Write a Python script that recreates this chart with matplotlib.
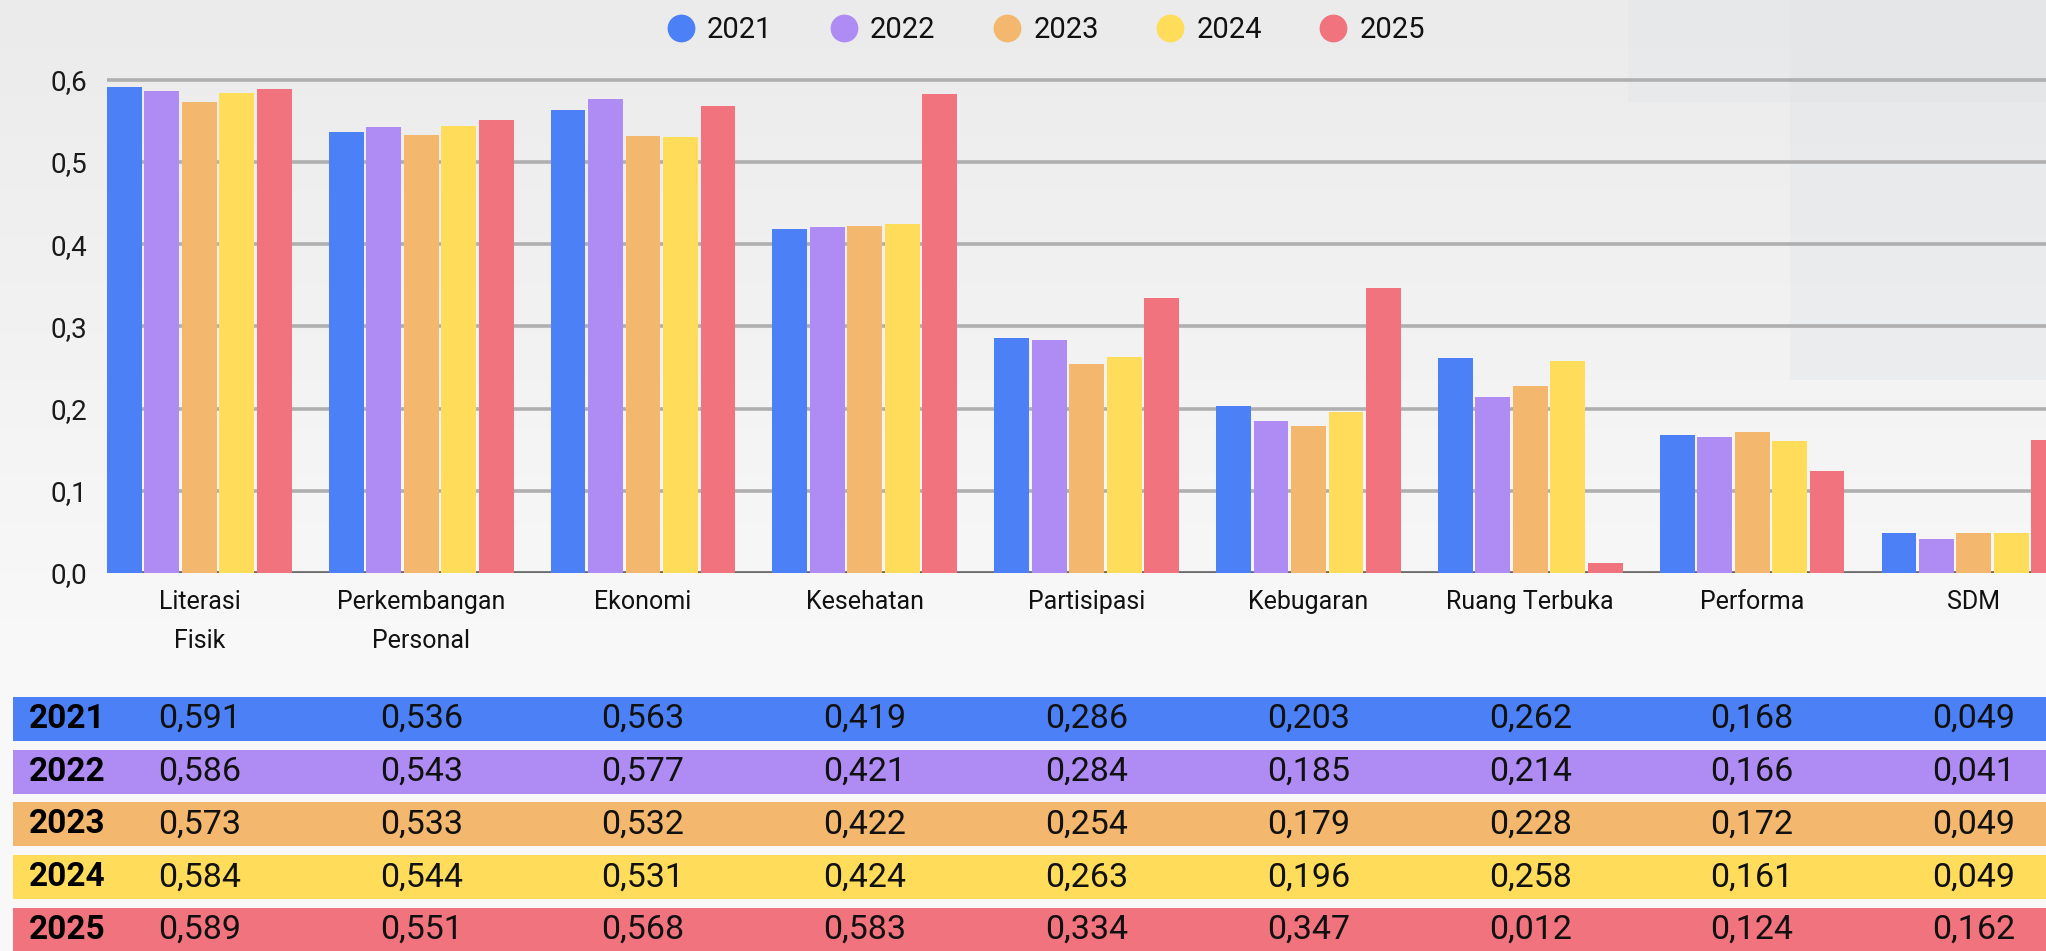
import numpy as np
import matplotlib
matplotlib.use("Agg")
import matplotlib.pyplot as plt
from matplotlib.patches import Rectangle
from matplotlib.lines import Line2D
import matplotlib.transforms as mtransforms

plt.rcParams['font.family'] = ['Roboto', 'DejaVu Sans']

# ---------------- data ----------------
categories = ["Literasi\nFisik", "Perkembangan\nPersonal", "Ekonomi", "Kesehatan",
              "Partisipasi", "Kebugaran", "Ruang Terbuka", "Performa", "SDM"]
years = ["2021", "2022", "2023", "2024", "2025"]
v2021 = [0.591, 0.536, 0.563, 0.419, 0.286, 0.203, 0.262, 0.168, 0.049]
v2022 = [0.586, 0.543, 0.577, 0.421, 0.284, 0.185, 0.214, 0.166, 0.041]
v2023 = [0.573, 0.533, 0.532, 0.422, 0.254, 0.179, 0.228, 0.172, 0.049]
v2024 = [0.584, 0.544, 0.531, 0.424, 0.263, 0.196, 0.258, 0.161, 0.049]
v2025 = [0.589, 0.551, 0.568, 0.583, 0.334, 0.347, 0.012, 0.124, 0.162]
series = [v2021, v2022, v2023, v2024, v2025]
colors = ["#4B80F6", "#AE8CF3", "#F3B86D", "#FFDD5A", "#F0737D"]
yticks = [0.0, 0.1, 0.2, 0.3, 0.4, 0.5, 0.6]
ytick_labels = ["0,0", "0,1", "0,2", "0,3", "0,4", "0,5", "0,6"]


def fmt(v):
    return f"{v:.3f}".replace(".", ",")


W, H = 2046, 951
fig = plt.figure(figsize=(W / 100, H / 100), dpi=100)

# background gradient
bg = fig.add_axes([0, 0, 1, 1], zorder=-10)
bg.axis("off")
t = np.linspace(0, 1, 300)
top = np.array([0xEB, 0xEB, 0xEB]) / 255
bot = np.array([0xF8, 0xF8, 0xF8]) / 255
mix = np.clip(t / 0.65, 0, 1)[:, None]
grad = top * (1 - mix) + bot * mix
bg.imshow(grad[:, None, :].repeat(2, axis=1), aspect="auto", extent=[0, 1, 0, 1],
          origin="upper")
bg.set_xlim(0, 1)
bg.set_ylim(0, 1)
# faint decorative panels top right
bg.add_patch(Rectangle((1628 / W, 1 - 102 / H), 1 - 1628 / W, 102 / H,
                       color="#E0E4E7", alpha=0.35, lw=0))
bg.add_patch(Rectangle((1790 / W, 1 - 380 / H), 1 - 1790 / W, 380 / H,
                       color="#E0E3E7", alpha=0.35, lw=0))

# ---------------- main chart ----------------
ax_left = 107 / W
ax_bottom = 378 / H
ax_height = 0.63 * 822 / H
ax = fig.add_axes([ax_left, ax_bottom, 1 - ax_left, ax_height])
ax.set_facecolor("none")

x = np.arange(len(categories))
pitch = 0.169
bw = 0.157
offsets = (np.arange(5) - 2) * pitch
for s, vals, c, yr in zip(range(5), series, colors, years):
    ax.bar(x + offsets[s], vals, width=bw, color=c, zorder=2, label=yr)

ax.set_xlim(-(2 * pitch + bw / 2), 8.325)
ax.set_ylim(0, 0.63)
ax.set_yticks(yticks)
ax.set_yticklabels(ytick_labels)
ax.yaxis.grid(True, color="#AFAFAF", lw=2.6)
ax.set_axisbelow(True)
ax.axhline(0, color="#6C6C6C", lw=2.6, zorder=1.5)
for sp in ax.spines.values():
    sp.set_visible(False)
ax.tick_params(axis="y", length=0, pad=14, labelsize=20, labelcolor="#1A1A1A")
ax.set_xticks(x)
ax.set_xticklabels(categories, fontsize=18, color="#111111", linespacing=1.8)
ax.tick_params(axis="x", length=0, pad=12)

# legend
handles = [Line2D([], [], marker="o", linestyle="", markersize=19,
                  markerfacecolor=c, markeredgecolor=c) for c in colors]
fig.legend(handles, years, loc="center", bbox_to_anchor=(0.511, 0.968), ncol=5,
           frameon=False, fontsize=21, handlelength=1.0, handletextpad=0.4,
           columnspacing=1.95, labelcolor="#111111")

# ---------------- data table ----------------
tax = fig.add_axes([0, 0, 1, (H - 681) / H])
tax.axis("off")
tax.set_xlim(0, 1)
tax.set_ylim(4.398, -0.72)
row_tr = mtransforms.blended_transform_factory(tax.transAxes, tax.transData)
val_tr = mtransforms.blended_transform_factory(ax.transData, tax.transData)
for i, (yr, vals, c) in enumerate(zip(years, series, colors)):
    tax.add_patch(Rectangle((13 / W, i - 0.417), 1 - 13 / W, 0.834, transform=row_tr,
                            color=c, lw=0, clip_on=False))
    tax.text(29 / W, i, yr, transform=row_tr, ha="left", va="center",
             fontsize=24, fontweight="bold", color="#000000")
    for j, v in enumerate(vals):
        tax.text(x[j], i, fmt(v), transform=val_tr, ha="center", va="center",
                 fontsize=24.5, color="#111111")

fig.savefig("out.png", dpi=100)
